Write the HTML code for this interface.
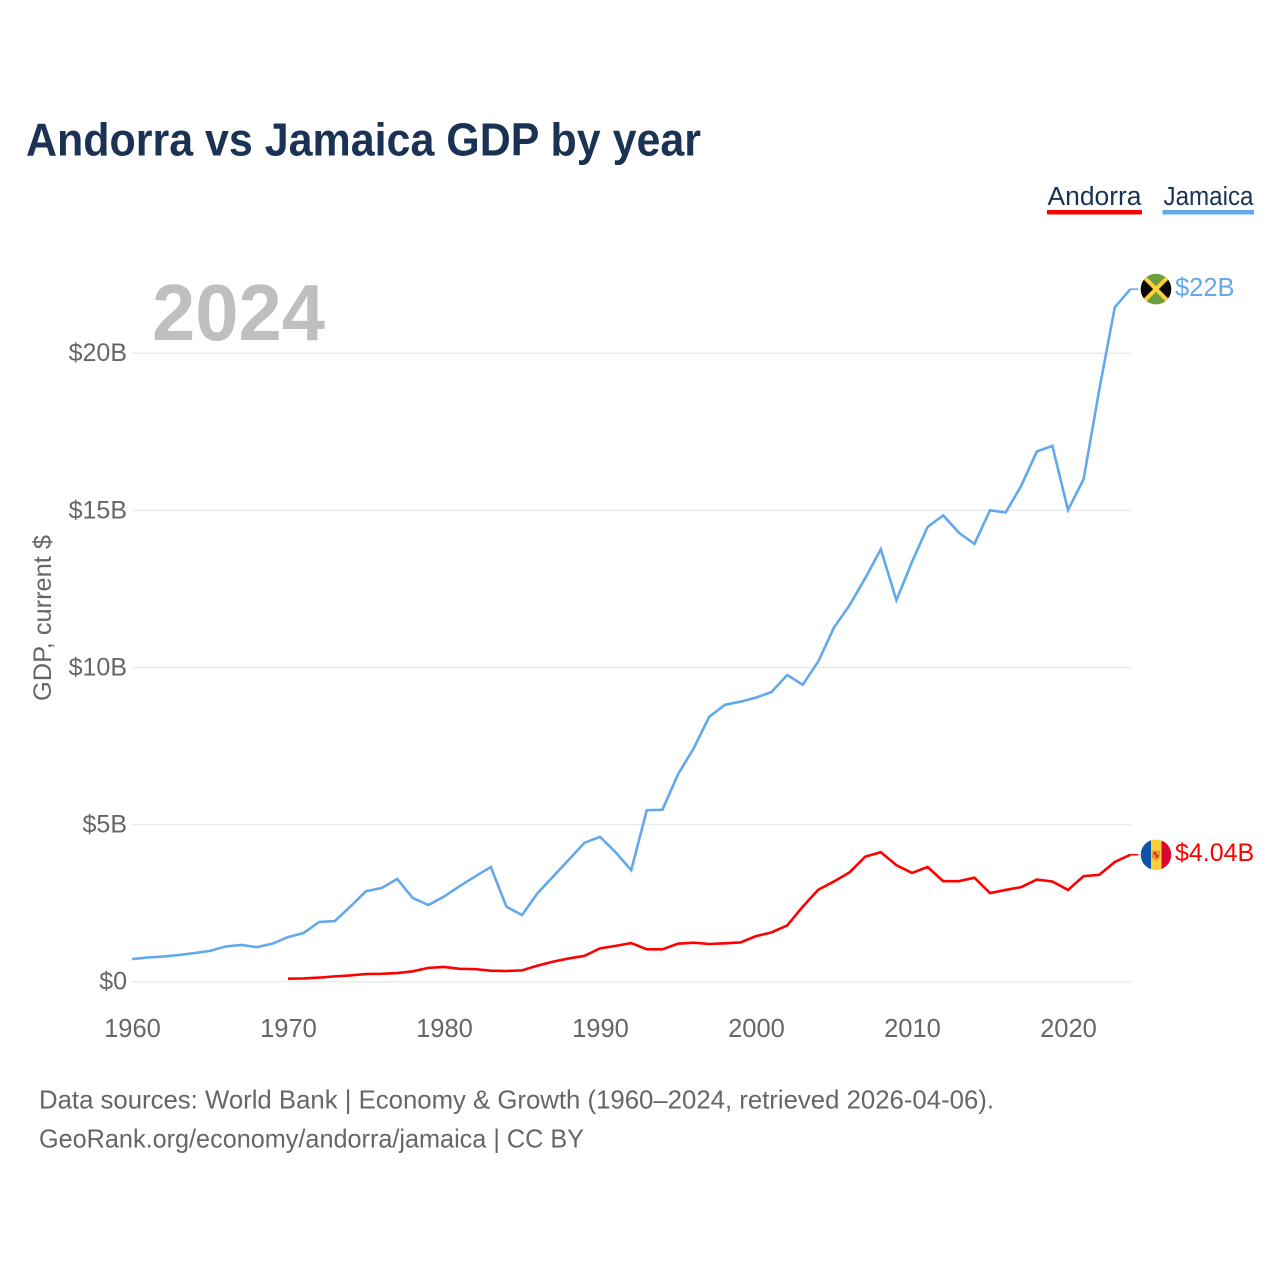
<!DOCTYPE html>
<html lang="en">
<head>
<meta charset="utf-8">
<title>Andorra vs Jamaica GDP by year</title>
<style>
html,body{margin:0;padding:0;background:#fff;width:1280px;height:1280px;overflow:hidden}
svg{display:block}
text{font-family:"Liberation Sans",Arial,sans-serif}
</style>
</head>
<body>
<svg id="chart" xmlns="http://www.w3.org/2000/svg" width="1280" height="1280" viewBox="0 0 1280 1280">
  <defs>
    <clipPath id="flag-clip"><circle cx="0" cy="0" r="15.3"></circle></clipPath>
  </defs>
  <rect x="0" y="0" width="1280" height="1280" fill="#ffffff"></rect>
  <text x="26" y="155.5" font-size="46" font-weight="700" fill="#1a3354" textLength="675" lengthAdjust="spacingAndGlyphs">Andorra vs Jamaica GDP by year</text>

  <g>
    <g>
      <text x="1047.5" y="205" font-size="25.5" fill="#1a3354" textLength="94" lengthAdjust="spacingAndGlyphs">Andorra</text>
      <rect x="1047" y="210" width="95" height="4.5" fill="#ff0000"></rect>
    </g>
    <g>
      <text x="1163.5" y="205" font-size="25.5" fill="#1a3354" textLength="90" lengthAdjust="spacingAndGlyphs">Jamaica</text>
      <rect x="1162.5" y="210" width="91.5" height="4.5" fill="#62a8ec"></rect>
    </g>
  </g>

  <g id="grid"></g>
  <g id="y-axis"></g>
  <g id="x-axis"></g>

  <text x="152" y="340" font-size="80" font-weight="700" fill="#bfbfbf" textLength="173" lengthAdjust="spacingAndGlyphs">2024</text>

  <text transform="translate(51,618) rotate(-90)" text-anchor="middle" font-size="25" fill="#666666" textLength="166" lengthAdjust="spacingAndGlyphs">GDP, current $</text>

  <g id="series"></g>

  <text x="39" y="1108.5" font-size="26" fill="#666666" textLength="955" lengthAdjust="spacingAndGlyphs">Data sources: World Bank | Economy &amp; Growth (1960–2024, retrieved 2026-04-06).</text>
  <text x="39" y="1147.5" font-size="26" fill="#666666" textLength="545" lengthAdjust="spacingAndGlyphs">GeoRank.org/economy/andorra/jamaica | CC BY</text>
</svg>

<script>
const jamaicaStartYear = 1960;
const jamaicaValues = [0.72,0.77,0.80,0.85,0.91,0.98,1.12,1.17,1.10,1.21,1.42,1.55,1.90,1.93,2.39,2.88,2.98,3.27,2.66,2.44,2.71,3.04,3.35,3.65,2.39,2.12,2.82,3.35,3.88,4.42,4.61,4.12,3.55,5.46,5.47,6.60,7.42,8.43,8.81,8.91,9.04,9.22,9.76,9.45,10.20,11.27,11.98,12.84,13.76,12.14,13.36,14.47,14.84,14.29,13.93,15.00,14.93,15.78,16.87,17.05,15.01,15.99,18.83,21.46,22.04];
const andorraStartYear = 1970;
const andorraValues = [0.095,0.105,0.13,0.17,0.20,0.245,0.25,0.275,0.33,0.44,0.47,0.41,0.40,0.35,0.34,0.36,0.51,0.64,0.74,0.82,1.06,1.14,1.23,1.03,1.03,1.21,1.24,1.20,1.22,1.25,1.45,1.57,1.79,2.39,2.93,3.19,3.48,3.98,4.12,3.71,3.46,3.65,3.20,3.20,3.31,2.82,2.92,3.01,3.25,3.19,2.92,3.36,3.40,3.81,4.04];
const yTickValues = [0,5,10,15,20];
const yTickLabels = ['$0','$5B','$10B','$15B','$20B'];
const xTickValues = [1960,1970,1980,1990,2000,2010,2020];
const xTickLabels = ['1960','1970','1980','1990','2000','2010','2020'];
const jamaicaEndLabel = '$22B';
const andorraEndLabel = '$4.04B';

const NS = 'http://www.w3.org/2000/svg';
const xScale = year => 132 + (year - 1960) * 15.6;
const yScale = value => 981.7 - value * 31.425;

function make(tag, attrs, parent) {
  const el = document.createElementNS(NS, tag);
  for (const k in attrs) el.setAttribute(k, attrs[k]);
  parent.appendChild(el);
  return el;
}

const gridGroup = document.getElementById('grid');
const yAxisGroup = document.getElementById('y-axis');
const xAxisGroup = document.getElementById('x-axis');
const seriesGroup = document.getElementById('series');

yTickValues.forEach((v, i) => {
  const line = make('line', {x1: 132, x2: 1131, y1: yScale(v), y2: yScale(v), stroke: '#ebebeb', 'stroke-width': 1.5}, gridGroup);
  
  
  const label = make('text', {x: 127, y: yScale(v) + 8, 'text-anchor': 'end', 'font-size': 25, fill: '#666666'}, yAxisGroup);
  
  
  label.textContent = yTickLabels[i];
});

xTickValues.forEach((v, i) => {
  const label = make('text', {x: xScale(v) + 0.5, y: 1037, 'text-anchor': 'middle', 'font-size': 25.5, fill: '#666666'}, xAxisGroup);
  
  
  label.textContent = xTickLabels[i];
});

function linePath(values, startYear) {
  return values.map((v, i) => (i ? 'L' : 'M') + xScale(startYear + i).toFixed(2) + ' ' + yScale(v).toFixed(2)).join(' ');
}

const jamaicaLine = make('path', {d: linePath(jamaicaValues, jamaicaStartYear), fill: 'none', stroke: '#62a8ec', 'stroke-width': 2.6, 'stroke-linejoin': 'miter'}, seriesGroup);



const andorraLine = make('path', {d: linePath(andorraValues, andorraStartYear), fill: 'none', stroke: '#ff0000', 'stroke-width': 2.6, 'stroke-linejoin': 'miter'}, seriesGroup);



const jamaicaEndY = yScale(jamaicaValues[jamaicaValues.length - 1]);
const andorraEndY = yScale(andorraValues[andorraValues.length - 1]);
const endX = xScale(2024);

const jamaicaLeader = make('line', {x1: endX, x2: endX + 8, y1: jamaicaEndY, y2: jamaicaEndY, stroke: '#62a8ec', 'stroke-width': 1.5}, seriesGroup);



const andorraLeader = make('line', {x1: endX, x2: endX + 8, y1: andorraEndY, y2: andorraEndY, stroke: '#ff0000', 'stroke-width': 1.5}, seriesGroup);



/* Jamaica flag marker */
const jamaicaFlag = make('g', {transform: 'translate(1156,' + jamaicaEndY + ')', 'clip-path': 'url(#flag-clip)'}, seriesGroup);


make('rect', {x: -16, y: -16, width: 32, height: 32, fill: '#6c9e3f'}, jamaicaFlag);
make('path', {d: 'M-16 -16 L0 0 L-16 16 Z M16 -16 L0 0 L16 16 Z', fill: '#0a0a0a'}, jamaicaFlag);
make('path', {d: 'M-13 -13 L13 13 M13 -13 L-13 13', stroke: '#fcd03a', 'stroke-width': 4, fill: 'none'}, jamaicaFlag);

/* Andorra flag marker */
const andorraFlag = make('g', {transform: 'translate(1156,' + andorraEndY + ')', 'clip-path': 'url(#flag-clip)'}, seriesGroup);


make('rect', {x: -16, y: -16, width: 11, height: 32, fill: '#0d55a6'}, andorraFlag);
make('rect', {x: -5, y: -16, width: 10.5, height: 32, fill: '#fcd03a'}, andorraFlag);
make('rect', {x: 5.5, y: -16, width: 11, height: 32, fill: '#d8082f'}, andorraFlag);
make('path', {d: 'M-4 -4 H4 V3 L0 6 L-4 3 Z', fill: '#e8932a'}, andorraFlag);
make('rect', {x: -2, y: -2.5, width: 2, height: 2.5, fill: '#c8102e'}, andorraFlag);
make('rect', {x: 0, y: 0, width: 2, height: 2.5, fill: '#c8102e'}, andorraFlag);

const jamaicaValueLabel = make('text', {x: 1175, y: jamaicaEndY + 7, 'font-size': 25.5, fill: '#62a8ec'}, seriesGroup);


jamaicaValueLabel.textContent = jamaicaEndLabel;

const andorraValueLabel = make('text', {x: 1175, y: andorraEndY + 6.5, 'font-size': 25, fill: '#ff0000'}, seriesGroup);


andorraValueLabel.textContent = andorraEndLabel;
</script>
</body>
</html>
